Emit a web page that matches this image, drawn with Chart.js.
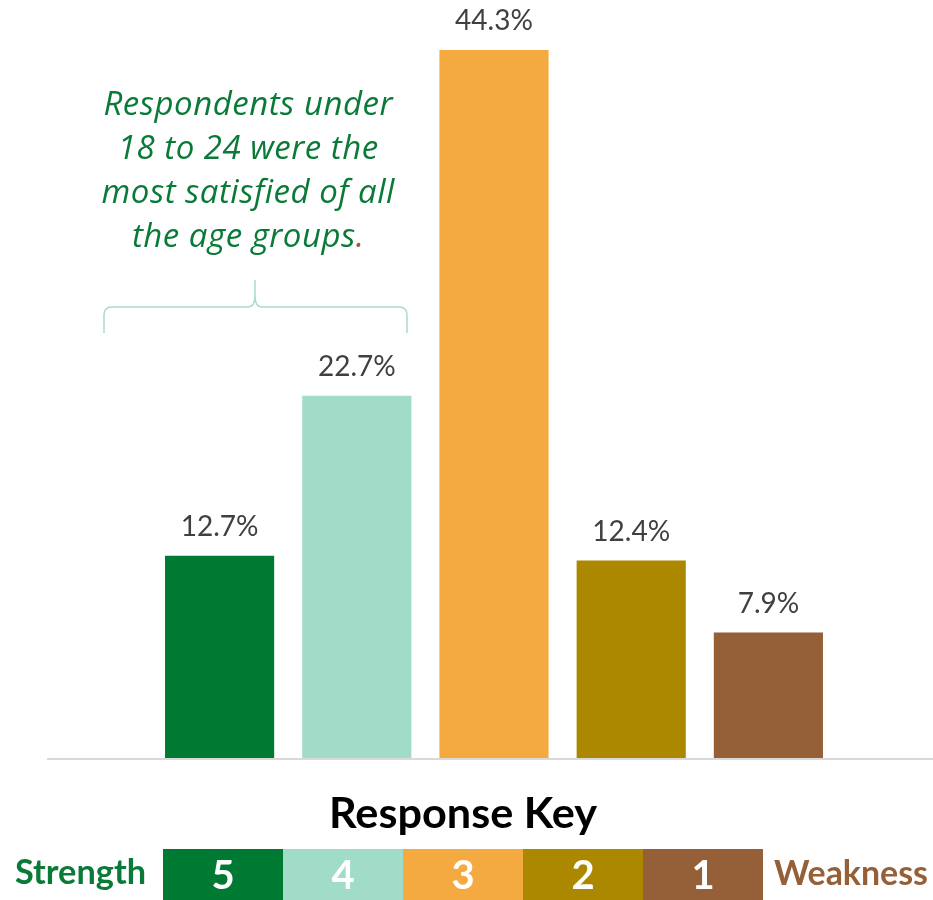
<!DOCTYPE html>
<html>
<head>
<meta charset="utf-8">
<script src="https://cdn.jsdelivr.net/npm/chart.js@4.4.1/dist/chart.umd.min.js"></script>
<style>
  html, body { margin: 0; padding: 0; background: #ffffff; }
  #wrap { width: 933px; height: 900px; position: relative; }
</style>
</head>
<body>
<div id="wrap"><canvas id="c" width="933" height="900"></canvas></div>
<script>
const categories = ['5', '4', '3', '2', '1'];
const values = [12.7, 22.7, 44.3, 12.4, 7.9];
const barColors = ['#007a33', '#a0dcc8', '#f5a941', '#ab8800', '#955f38'];
const valueLabels = ['12.7%', '22.7%', '44.3%', '12.4%', '7.9%'];
const keyLabels = ['5', '4', '3', '2', '1'];
const annotationLines = ['Respondents under', '18 to 24 were the', 'most satisfied of all', 'the age groups'];

const FONT = 'Lato, "Open Sans", sans-serif';
const FONT2 = '"Open Sans", Lato, sans-serif';

// draw text horizontally fitted to a target width, left edge x
function drawStretch(ctx, text, x, y, targetW) {
  ctx.letterSpacing = '0px';
  ctx.textAlign = 'left';
  const w0 = ctx.measureText(text).width;
  ctx.save();
  ctx.translate(x, y);
  ctx.scale(targetW / w0, 1);
  ctx.fillText(text, 0, 0);
  ctx.restore();
}

const overlay = {
  id: 'overlay',
  afterDatasetsDraw(chart) {
    const ctx = chart.ctx;
    const area = chart.chartArea;
    ctx.save();
    // baseline
    ctx.strokeStyle = '#d9d9d9';
    ctx.lineWidth = 2;
    ctx.beginPath();
    ctx.moveTo(47, area.bottom);
    ctx.lineTo(933, area.bottom);
    ctx.stroke();

    // value labels
    const meta = chart.getDatasetMeta(0);
    ctx.fillStyle = '#404040';
    ctx.font = '28px ' + FONT;
    ctx.textAlign = 'center';
    ctx.textBaseline = 'alphabetic';
    meta.data.forEach((bar, i) => {
      ctx.fillText(valueLabels[i], bar.x, bar.y - 19.5);
    });

    // annotation
    ctx.font = 'italic 33px ' + FONT2;
    const cx = 248;
    const baselines = [115, 159, 203, 247];
    ctx.letterSpacing = '0px';
    const w1 = ctx.measureText(annotationLines[0]).width;
    const sp = (289 - w1) / (annotationLines[0].length - 1);
    ctx.letterSpacing = sp + 'px';
    ctx.textAlign = 'left';
    annotationLines.forEach((t, i) => {
      const full = (i === annotationLines.length - 1) ? t + '.' : t;
      const w = ctx.measureText(full).width - sp;
      const x0 = cx - w / 2;
      ctx.fillStyle = '#0a7a38';
      ctx.fillText(t, x0, baselines[i]);
      if (i === annotationLines.length - 1) {
        const w2 = ctx.measureText(t).width;
        ctx.fillStyle = '#955f38';
        ctx.fillText('.', x0 + w2, baselines[i]);
      }
    });
    ctx.letterSpacing = '0px';

    // brace
    ctx.strokeStyle = '#a8dcc8';
    ctx.lineWidth = 1.5;
    ctx.beginPath();
    ctx.moveTo(104, 333);
    ctx.lineTo(104, 315);
    ctx.quadraticCurveTo(104, 307, 112, 307);
    ctx.lineTo(248, 307);
    ctx.quadraticCurveTo(255, 307, 255, 296);
    ctx.lineTo(255, 280);
    ctx.moveTo(255, 296);
    ctx.quadraticCurveTo(255, 307, 262, 307);
    ctx.lineTo(399, 307);
    ctx.quadraticCurveTo(407, 307, 407, 315);
    ctx.lineTo(407, 333);
    ctx.stroke();

    // response key
    ctx.fillStyle = '#000000';
    ctx.font = 'bold 42px ' + FONT;
    drawStretch(ctx, 'Response Key', 329, 828, 268);

    const boxLeft = 163, boxW = 120, boxTop = 849, boxH = 51;
    keyLabels.forEach((k, i) => {
      ctx.fillStyle = barColors[i];
      ctx.fillRect(boxLeft + i * boxW, boxTop, boxW, boxH);
      ctx.fillStyle = '#ffffff';
      ctx.font = 'bold 40px ' + FONT;
      ctx.textAlign = 'center';
      ctx.fillText(k, boxLeft + i * boxW + boxW / 2, 889);
    });

    ctx.font = 'bold 34px ' + FONT;
    ctx.fillStyle = '#0a7a38';
    drawStretch(ctx, 'Strength', 15, 884, 131);
    ctx.fillStyle = '#955f38';
    drawStretch(ctx, 'Weakness', 774, 885, 154);
    ctx.restore();
  }
};

new Chart(document.getElementById('c'), {
  type: 'bar',
  data: {
    labels: categories,
    datasets: [{
      data: values,
      backgroundColor: barColors,
      borderWidth: 0,
      categoryPercentage: 1,
      barPercentage: 0.7956
    }]
  },
  options: {
    responsive: false,
    animation: false,
    layout: { padding: { left: 151, right: 96, top: 0, bottom: 141 } },
    plugins: { legend: { display: false }, tooltip: { enabled: false } },
    scales: {
      x: { display: false },
      y: { display: false, min: 0, max: 47.42 }
    }
  },
  plugins: [overlay]
});
</script>
</body>
</html>
